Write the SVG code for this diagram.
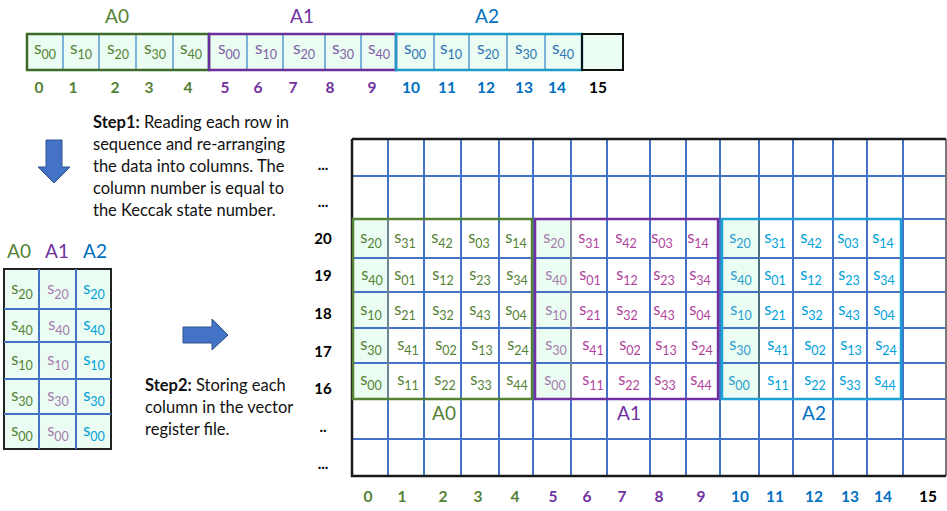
<svg xmlns="http://www.w3.org/2000/svg" width="947" height="511" viewBox="0 0 947 511">
<style>
text{font-family:Lato,"Open Sans","Liberation Sans",sans-serif}
.c{font-size:17.5px;text-anchor:middle}
.cb{font-size:16.5px;text-anchor:middle}
.sub{font-size:12.5px}
.g{fill:#548235}.p{fill:#7F5FA8}.b{fill:#2E75B6}
.m{fill:#B0449C}.ml{fill:#A57CAE}.cy{fill:#00A0DC}.cyl{fill:#2E9FD0}
.lab{font-size:19px;text-anchor:middle}
.num{font-size:15.5px;font-weight:bold;text-anchor:middle}
.rl{font-size:15px;font-weight:bold;text-anchor:middle;fill:#000}
.st{font-size:16.5px;fill:#111}
.grid{stroke:#4472C4;stroke-width:2;fill:none}
.thin{stroke:#5B9BD5;stroke-width:1.5;fill:none}
.fill{fill:#EBFCF2}
.arrow{fill:#4472C4;stroke:#2F528F;stroke-width:1}
</style>

<!-- Top row -->
<g id="top-row">
<rect x="27" y="34" width="596" height="36" class="fill" stroke="#111" stroke-width="2"/>
<path class="thin" d="M63 34V70M99 34V70M136 34V70M173 34V70M247 34V70M283 34V70M325 34V70M361 34V70M434 34V70M469 34V70M507 34V70M545 34V70"/>
<rect x="27" y="34" width="182" height="36" fill="none" stroke="#3F6B2A" stroke-width="2.5"/>
<rect x="209" y="34" width="187" height="36" fill="none" stroke="#6A2E9A" stroke-width="2.5"/>
<rect x="396" y="34" width="186" height="36" fill="none" stroke="#1E9AC8" stroke-width="2.5"/>
<rect x="582" y="34" width="41" height="36" fill="none" stroke="#111" stroke-width="2"/>
<text x="117" y="23" class="lab g">A0</text>
<text x="302" y="23" class="lab" fill="#7030A0">A1</text>
<text x="487" y="23" class="lab" fill="#0070C0">A2</text>
<text x="45" y="54" class="c g">s<tspan class="sub" dy="5">00</tspan></text>
<text x="81" y="54" class="c g">s<tspan class="sub" dy="5">10</tspan></text>
<text x="118" y="54" class="c g">s<tspan class="sub" dy="5">20</tspan></text>
<text x="155" y="54" class="c g">s<tspan class="sub" dy="5">30</tspan></text>
<text x="191" y="54" class="c g">s<tspan class="sub" dy="5">40</tspan></text>
<text x="229" y="54" class="c p">s<tspan class="sub" dy="5">00</tspan></text>
<text x="266" y="54" class="c p">s<tspan class="sub" dy="5">10</tspan></text>
<text x="304" y="54" class="c p">s<tspan class="sub" dy="5">20</tspan></text>
<text x="343" y="54" class="c p">s<tspan class="sub" dy="5">30</tspan></text>
<text x="379" y="54" class="c p">s<tspan class="sub" dy="5">40</tspan></text>
<text x="415" y="54" class="c b">s<tspan class="sub" dy="5">00</tspan></text>
<text x="451" y="54" class="c b">s<tspan class="sub" dy="5">10</tspan></text>
<text x="488" y="54" class="c b">s<tspan class="sub" dy="5">20</tspan></text>
<text x="526" y="54" class="c b">s<tspan class="sub" dy="5">30</tspan></text>
<text x="563" y="54" class="c b">s<tspan class="sub" dy="5">40</tspan></text>
<g class="num">
<text x="39" y="93" fill="#548235">0</text><text x="73" y="93" fill="#548235">1</text><text x="115" y="93" fill="#548235">2</text><text x="149" y="93" fill="#548235">3</text><text x="188" y="93" fill="#548235">4</text>
<text x="225" y="93" fill="#7030A0">5</text><text x="258" y="93" fill="#7030A0">6</text><text x="293" y="93" fill="#7030A0">7</text><text x="330" y="93" fill="#7030A0">8</text><text x="372" y="93" fill="#7030A0">9</text>
<text x="411" y="93" fill="#0070C0">10</text><text x="447" y="93" fill="#0070C0">11</text><text x="486" y="93" fill="#0070C0">12</text><text x="524" y="93" fill="#0070C0">13</text><text x="557" y="93" fill="#0070C0">14</text>
<text x="598" y="93" fill="#000">15</text>
</g>
</g>

<!-- Step texts -->
<g id="step1">
<text class="st"><tspan x="93" y="128" font-weight="bold">Step1:</tspan><tspan> Reading each row in</tspan><tspan x="93" y="150">sequence and re-arranging</tspan><tspan x="93" y="172">the data into columns. The</tspan><tspan x="93" y="194">column number is equal to</tspan><tspan x="93" y="216">the Keccak state number.</tspan></text>
</g>
<g id="step2">
<text class="st"><tspan x="145" y="391" font-weight="bold">Step2:</tspan><tspan> Storing each</tspan><tspan x="145" y="413">column in the vector</tspan><tspan x="145" y="435">register file.</tspan></text>
</g>

<!-- Arrows -->
<g id="connectors">
<polygon class="arrow" points="46,140 62,140 62,167 70,167 54,183 38,167 46,167"/>
<polygon class="arrow" points="183,327 212,327 212,319 228,335 212,350 212,343 183,343"/>
</g>

<!-- Left table -->
<g id="left-table">
<text x="19" y="258" class="lab g">A0</text>
<text x="57" y="258" class="lab" fill="#7030A0">A1</text>
<text x="95" y="258" class="lab" fill="#0070C0">A2</text>
<rect x="4" y="269" width="107" height="180" class="fill" stroke="#222" stroke-width="2"/>
<path class="grid" d="M39 269V449M76 269V449M4 309H111M4 342H111M4 379H111M4 414H111"/>
<text x="22" y="294" class="cb g">s<tspan class="sub" dy="5">20</tspan></text>
<text x="22" y="330" class="cb g">s<tspan class="sub" dy="5">40</tspan></text>
<text x="22" y="365" class="cb g">s<tspan class="sub" dy="5">10</tspan></text>
<text x="22" y="401" class="cb g">s<tspan class="sub" dy="5">30</tspan></text>
<text x="22" y="436" class="cb g">s<tspan class="sub" dy="5">00</tspan></text>
<text x="58" y="294" class="cb ml">s<tspan class="sub" dy="5">20</tspan></text>
<text x="59" y="330" class="cb ml">s<tspan class="sub" dy="5">40</tspan></text>
<text x="58" y="365" class="cb ml">s<tspan class="sub" dy="5">10</tspan></text>
<text x="58" y="401" class="cb ml">s<tspan class="sub" dy="5">30</tspan></text>
<text x="58" y="436" class="cb ml">s<tspan class="sub" dy="5">00</tspan></text>
<text x="94" y="294" class="cb cy">s<tspan class="sub" dy="5">20</tspan></text>
<text x="94" y="330" class="cb cy">s<tspan class="sub" dy="5">40</tspan></text>
<text x="94" y="365" class="cb cy">s<tspan class="sub" dy="5">10</tspan></text>
<text x="94" y="401" class="cb cy">s<tspan class="sub" dy="5">30</tspan></text>
<text x="94" y="436" class="cb cy">s<tspan class="sub" dy="5">00</tspan></text>
</g>

<!-- Register file grid -->
<g id="register-file">
<rect x="352" y="139" width="594" height="337" fill="#fff"/>
<rect x="353" y="219" width="35" height="180" class="fill"/>
<rect x="535" y="219" width="36" height="180" class="fill"/>
<rect x="722" y="219" width="37" height="180" class="fill"/>
<path class="grid" d="M388 139V476M424 139V476M461 139V476M499 139V476M533 139V476M571 139V476M607 139V476M650 139V476M686 139V476M720 139V476M759 139V476M793 139V476M833 139V476M867 139V476M903 139V476M352 176H946M352 219H946M352 258H946M352 292H946M352 328H946M352 363H946M352 399H946M352 439H946"/>
<path d="M946 139V476" stroke="#777" stroke-width="2"/>
<path d="M352 139H946M352 139V476H946" stroke="#1a1a1a" stroke-width="2.5" fill="none"/>
<rect x="353" y="219" width="35" height="180" fill="none" stroke="#7F8F7F" stroke-width="1.5"/>
<rect x="535" y="219" width="36" height="180" fill="none" stroke="#8A8A8A" stroke-width="1.5"/>
<rect x="722" y="219" width="37" height="180" fill="none" stroke="#4F6F6F" stroke-width="1.5"/>
<rect x="353" y="219" width="179" height="180" fill="none" stroke="#548235" stroke-width="2.5"/>
<rect x="535" y="219" width="183" height="180" fill="none" stroke="#7030A0" stroke-width="2.5"/>
<rect x="722" y="219" width="179" height="180" fill="none" stroke="#1BA1D6" stroke-width="2.5"/>
<text x="444" y="420" class="lab g">A0</text>
<text x="629" y="420" class="lab" fill="#7030A0">A1</text>
<text x="814" y="420" class="lab" fill="#0070C0">A2</text>

<g class="rl">
<text x="323" y="170">...</text><text x="323" y="207">...</text>
<text x="323" y="244">20</text><text x="323" y="281">19</text><text x="323" y="319">18</text><text x="323" y="357">17</text><text x="323" y="394">16</text>
<text x="323" y="432">..</text><text x="323" y="469">...</text>
</g>
<g class="num">
<text x="368" y="502" fill="#548235">0</text><text x="402" y="502" fill="#548235">1</text><text x="443" y="502" fill="#548235">2</text><text x="478" y="502" fill="#548235">3</text><text x="515" y="502" fill="#548235">4</text>
<text x="553" y="502" fill="#7030A0">5</text><text x="587" y="502" fill="#7030A0">6</text><text x="622" y="502" fill="#7030A0">7</text><text x="659" y="502" fill="#7030A0">8</text><text x="701" y="502" fill="#7030A0">9</text>
<text x="740" y="502" fill="#0070C0">10</text><text x="775" y="502" fill="#0070C0">11</text><text x="814" y="502" fill="#0070C0">12</text><text x="850" y="502" fill="#0070C0">13</text><text x="883" y="502" fill="#0070C0">14</text>
<text x="928" y="502" fill="#000">15</text>
</g>

<!-- A0 block -->
<g id="A0-block">
<text x="371" y="243" class="cb g">s<tspan class="sub" dy="5">20</tspan></text>
<text x="372" y="280" class="cb g">s<tspan class="sub" dy="5">40</tspan></text>
<text x="371" y="315" class="cb g">s<tspan class="sub" dy="5">10</tspan></text>
<text x="371" y="350" class="cb g">s<tspan class="sub" dy="5">30</tspan></text>
<text x="371" y="385" class="cb g">s<tspan class="sub" dy="5">00</tspan></text>
<text x="405" y="243" class="cb g">s<tspan class="sub" dy="5">31</tspan></text>
<text x="405" y="280" class="cb g">s<tspan class="sub" dy="5">01</tspan></text>
<text x="405" y="315" class="cb g">s<tspan class="sub" dy="5">21</tspan></text>
<text x="408" y="350" class="cb g">s<tspan class="sub" dy="5">41</tspan></text>
<text x="408" y="385" class="cb g">s<tspan class="sub" dy="5">11</tspan></text>
<text x="442" y="243" class="cb g">s<tspan class="sub" dy="5">42</tspan></text>
<text x="443" y="280" class="cb g">s<tspan class="sub" dy="5">12</tspan></text>
<text x="443" y="315" class="cb g">s<tspan class="sub" dy="5">32</tspan></text>
<text x="446" y="350" class="cb g">s<tspan class="sub" dy="5">02</tspan></text>
<text x="445" y="385" class="cb g">s<tspan class="sub" dy="5">22</tspan></text>
<text x="479" y="243" class="cb g">s<tspan class="sub" dy="5">03</tspan></text>
<text x="480" y="280" class="cb g">s<tspan class="sub" dy="5">23</tspan></text>
<text x="480" y="315" class="cb g">s<tspan class="sub" dy="5">43</tspan></text>
<text x="482" y="350" class="cb g">s<tspan class="sub" dy="5">13</tspan></text>
<text x="481" y="385" class="cb g">s<tspan class="sub" dy="5">33</tspan></text>
<text x="516" y="243" class="cb g">s<tspan class="sub" dy="5">14</tspan></text>
<text x="517" y="280" class="cb g">s<tspan class="sub" dy="5">34</tspan></text>
<text x="516" y="315" class="cb g">s<tspan class="sub" dy="5">04</tspan></text>
<text x="518" y="350" class="cb g">s<tspan class="sub" dy="5">24</tspan></text>
<text x="517" y="385" class="cb g">s<tspan class="sub" dy="5">44</tspan></text>
</g>

<!-- A1 block -->
<g id="A1-block">
<text x="554" y="243" class="cb ml">s<tspan class="sub" dy="5">20</tspan></text>
<text x="556" y="280" class="cb ml">s<tspan class="sub" dy="5">40</tspan></text>
<text x="556" y="315" class="cb ml">s<tspan class="sub" dy="5">10</tspan></text>
<text x="556" y="350" class="cb ml">s<tspan class="sub" dy="5">30</tspan></text>
<text x="555" y="385" class="cb ml">s<tspan class="sub" dy="5">00</tspan></text>
<text x="589" y="243" class="cb m">s<tspan class="sub" dy="5">31</tspan></text>
<text x="590" y="280" class="cb m">s<tspan class="sub" dy="5">01</tspan></text>
<text x="590" y="315" class="cb m">s<tspan class="sub" dy="5">21</tspan></text>
<text x="593" y="350" class="cb m">s<tspan class="sub" dy="5">41</tspan></text>
<text x="593" y="385" class="cb m">s<tspan class="sub" dy="5">11</tspan></text>
<text x="626" y="243" class="cb m">s<tspan class="sub" dy="5">42</tspan></text>
<text x="627" y="280" class="cb m">s<tspan class="sub" dy="5">12</tspan></text>
<text x="627" y="315" class="cb m">s<tspan class="sub" dy="5">32</tspan></text>
<text x="630" y="350" class="cb m">s<tspan class="sub" dy="5">02</tspan></text>
<text x="629" y="385" class="cb m">s<tspan class="sub" dy="5">22</tspan></text>
<text x="662" y="243" class="cb m">s<tspan class="sub" dy="5">03</tspan></text>
<text x="664" y="280" class="cb m">s<tspan class="sub" dy="5">23</tspan></text>
<text x="664" y="315" class="cb m">s<tspan class="sub" dy="5">43</tspan></text>
<text x="666" y="350" class="cb m">s<tspan class="sub" dy="5">13</tspan></text>
<text x="665" y="385" class="cb m">s<tspan class="sub" dy="5">33</tspan></text>
<text x="698" y="243" class="cb m">s<tspan class="sub" dy="5">14</tspan></text>
<text x="700" y="280" class="cb m">s<tspan class="sub" dy="5">34</tspan></text>
<text x="700" y="315" class="cb m">s<tspan class="sub" dy="5">04</tspan></text>
<text x="702" y="350" class="cb m">s<tspan class="sub" dy="5">24</tspan></text>
<text x="701" y="385" class="cb m">s<tspan class="sub" dy="5">44</tspan></text>
</g>

<!-- A2 block -->
<g id="A2-block">
<text x="740" y="243" class="cb cyl">s<tspan class="sub" dy="5">20</tspan></text>
<text x="741" y="280" class="cb cyl">s<tspan class="sub" dy="5">40</tspan></text>
<text x="741" y="315" class="cb cyl">s<tspan class="sub" dy="5">10</tspan></text>
<text x="740" y="350" class="cb cyl">s<tspan class="sub" dy="5">30</tspan></text>
<text x="739" y="385" class="cb cyl">s<tspan class="sub" dy="5">00</tspan></text>
<text x="775" y="243" class="cb cy">s<tspan class="sub" dy="5">31</tspan></text>
<text x="775" y="280" class="cb cy">s<tspan class="sub" dy="5">01</tspan></text>
<text x="775" y="315" class="cb cy">s<tspan class="sub" dy="5">21</tspan></text>
<text x="778" y="350" class="cb cy">s<tspan class="sub" dy="5">41</tspan></text>
<text x="778" y="385" class="cb cy">s<tspan class="sub" dy="5">11</tspan></text>
<text x="811" y="243" class="cb cy">s<tspan class="sub" dy="5">42</tspan></text>
<text x="811" y="280" class="cb cy">s<tspan class="sub" dy="5">12</tspan></text>
<text x="812" y="315" class="cb cy">s<tspan class="sub" dy="5">32</tspan></text>
<text x="815" y="350" class="cb cy">s<tspan class="sub" dy="5">02</tspan></text>
<text x="815" y="385" class="cb cy">s<tspan class="sub" dy="5">22</tspan></text>
<text x="848" y="243" class="cb cy">s<tspan class="sub" dy="5">03</tspan></text>
<text x="849" y="280" class="cb cy">s<tspan class="sub" dy="5">23</tspan></text>
<text x="849" y="315" class="cb cy">s<tspan class="sub" dy="5">43</tspan></text>
<text x="851" y="350" class="cb cy">s<tspan class="sub" dy="5">13</tspan></text>
<text x="850" y="385" class="cb cy">s<tspan class="sub" dy="5">33</tspan></text>
<text x="883" y="243" class="cb cy">s<tspan class="sub" dy="5">14</tspan></text>
<text x="884" y="280" class="cb cy">s<tspan class="sub" dy="5">34</tspan></text>
<text x="884" y="315" class="cb cy">s<tspan class="sub" dy="5">04</tspan></text>
<text x="886" y="350" class="cb cy">s<tspan class="sub" dy="5">24</tspan></text>
<text x="885" y="385" class="cb cy">s<tspan class="sub" dy="5">44</tspan></text>
</g>
</g>
</svg>
